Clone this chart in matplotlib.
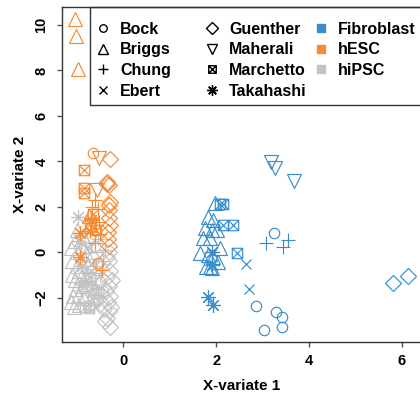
import numpy as np
import matplotlib
matplotlib.use("Agg")
import matplotlib.pyplot as plt
from matplotlib.path import Path
from matplotlib.lines import Line2D
from matplotlib.patches import Rectangle

plt.rcParams['font.family'] = ['Liberation Sans', 'DejaVu Sans']
plt.rcParams['font.weight'] = 'bold'

studies = ["Bock", "Briggs", "Chung", "Ebert", "Guenther", "Maherali", "Marchetto", "Takahashi"]
cell_types = ["Fibroblast", "hESC", "hiPSC"]
type_colors = {"Fibroblast": "#388ECC", "hESC": "#F68B33", "hiPSC": "#C2C2C2"}

# (x-variate 1, x-variate 2), per study and cell type
bock_fib = [(3.25, 0.84), (2.86, -2.35), (3.30, -2.64), (3.41, -2.83), (3.41, -3.30), (3.03, -3.42)]
bock_esc = [(-0.66, 4.35), (-0.55, -0.45)]
bock_ipsc = [(-0.60, -0.9), (-0.70, -1.6), (-0.55, -2.1), (-0.65, -0.2), (-0.50, -1.3), (-0.75, -2.3),
             (-0.45, -1.7), (-0.62, 0.3)]

briggs_fib = [(1.97, 2.18), (1.83, 1.57), (1.94, 1.42), (1.76, 1.06), (1.90, 0.98), (2.01, 0.98),
              (1.72, 0.62), (1.86, 0.62), (2.08, 0.18), (1.65, -0.04), (1.83, -0.12), (1.94, -0.19),
              (2.04, -0.41), (1.79, -0.63), (1.86, -0.63), (1.92, -0.70)]
briggs_esc = [(-1.04, 10.26), (-1.02, 9.53), (-0.98, 8.05), (-0.75, 1.6)]
briggs_ipsc = [(-1.05, 0.5), (-1.0, 0.0), (-1.1, -0.4), (-0.95, -0.8), (-1.05, -1.2), (-0.9, -1.5),
               (-1.08, -1.9), (-0.95, -2.3), (-1.07, -2.39), (-0.85, -0.3), (-0.8, -1.0), (-0.9, 0.3),
               (-1.0, 1.0), (-0.85, -2.0), (-1.12, 0.2), (-1.0, -0.6), (-1.1, -1.0), (-0.92, -1.1),
               (-1.02, -1.6), (-0.88, 0.7), (-1.12, -2.2), (-0.97, -1.9)]

chung_fib = [(3.07, 0.42), (3.44, 0.25), (3.55, 0.54)]
chung_esc = [(-0.61, 2.3), (-0.55, 1.9), (-0.7, 1.5), (-0.6, 1.2), (-0.5, 0.8), (-0.46, -0.78),
             (-0.62, 0.4), (-0.68, 2.0), (-0.52, 1.35)]
chung_ipsc = [(-0.45, -0.4), (-0.5, -1.0), (-0.6, -0.6), (-0.4, 0.1), (-0.7, -1.4), (-0.55, 0.6)]

ebert_fib = [(2.65, -0.51), (2.71, -1.61)]
ebert_esc = []
ebert_ipsc = [(-0.7, -0.8), (-0.55, -1.5), (-0.75, 0.2), (-0.6, -2.4)]

guenther_fib = [(5.81, -1.36), (6.14, -1.03)]
guenther_esc = [(-0.28, 4.09), (-0.36, 3.11), (-0.32, 2.96), (-0.28, 2.23), (-0.30, 2.1), (-0.32, 1.85),
                (-0.30, 1.5), (-0.28, 1.2), (-0.33, 0.9), (-0.30, 0.3), (-0.35, 3.0), (-0.34, 0.6)]
guenther_ipsc = [(-0.30, 0.0), (-0.32, -0.4), (-0.28, -0.8), (-0.35, -1.1), (-0.30, -1.5), (-0.28, -1.9),
                 (-0.33, -2.2), (-0.30, -2.6), (-0.35, -2.9), (-0.29, -3.27), (-0.40, -3.0),
                 (-0.38, -1.7), (-0.25, -1.2), (-0.36, -0.2), (-0.42, -2.5), (-0.26, -2.4)]

maherali_fib = [(3.19, 3.99), (3.27, 3.72), (3.67, 3.14)]
maherali_esc = [(-0.53, 4.13), (-0.57, 2.74)]
maherali_ipsc = [(-0.6, -0.3), (-0.65, -1.2), (-0.55, -1.9), (-0.7, 0.6), (-0.78, -1.7)]

marchetto_fib = [(2.08, 2.12), (2.14, 2.12), (2.14, 1.2), (2.37, 1.2), (2.44, -0.04)]
marchetto_esc = [(-0.84, 3.62), (-0.84, 2.82), (-0.84, 2.6), (-0.65, 1.7), (-0.6, 1.0), (-0.72, 1.25)]
marchetto_ipsc = [(-0.82, -2.39), (-0.75, -2.45), (-0.7, -0.5), (-0.6, -1.8), (-0.8, 0.2),
                  (-0.72, -1.1), (-0.85, -1.5), (-0.66, -2.1)]

takahashi_fib = [(1.90, 0.03), (1.90, -0.56), (1.83, -1.95), (1.94, -2.32)]
takahashi_esc = [(-0.94, 0.84), (-0.94, -0.19), (-0.69, 1.42), (-0.72, 0.95)]
takahashi_ipsc = [(-0.97, 1.57), (-0.95, 0.5), (-0.9, -0.6), (-0.85, -1.3)]

points = {
    "Bock": [bock_fib, bock_esc, bock_ipsc],
    "Briggs": [briggs_fib, briggs_esc, briggs_ipsc],
    "Chung": [chung_fib, chung_esc, chung_ipsc],
    "Ebert": [ebert_fib, ebert_esc, ebert_ipsc],
    "Guenther": [guenther_fib, guenther_esc, guenther_ipsc],
    "Maherali": [maherali_fib, maherali_esc, maherali_ipsc],
    "Marchetto": [marchetto_fib, marchetto_esc, marchetto_ipsc],
    "Takahashi": [takahashi_fib, takahashi_esc, takahashi_ipsc],
}

# square with a cross inside (R pch 7)
boxx = Path([(-1, -1), (1, -1), (1, 1), (-1, 1), (-1, -1), (-1, -1), (1, 1), (-1, 1), (1, -1)],
            [Path.MOVETO, Path.LINETO, Path.LINETO, Path.LINETO, Path.CLOSEPOLY,
             Path.MOVETO, Path.LINETO, Path.MOVETO, Path.LINETO])

study_marker = {"Bock": ("o", 7.5), "Briggs": ("^", 9.5), "Chung": ("+", 10.5), "Ebert": ("x", 7.5),
                "Guenther": ("D", 8), "Maherali": ("v", 9.5), "Marchetto": (boxx, 7.5),
                "Takahashi": ((8, 2, 0), 10.5)}

fig = plt.figure(figsize=(4.2, 3.93), dpi=100)
ax = fig.add_axes([0.1469, 0.1305, 0.857, 0.851])

for ct in ["hiPSC", "hESC", "Fibroblast"]:
    idx = cell_types.index(ct)
    for s in studies:
        pts = points[s][idx]
        if not pts:
            continue
        arr = np.array(pts)
        m, ms = study_marker[s]
        ax.plot(arr[:, 0], arr[:, 1], linestyle="none", marker=m, ms=ms,
                mfc="none", mec=type_colors[ct], mew=0.85)

ax.set_xlim(-1.33, 6.43)
ax.set_ylim(-3.93, 10.78)
ax.set_xticks([0, 2, 4, 6])
ax.set_yticks([-2, 0, 2, 4, 6, 8, 10])
for sp in ax.spines.values():
    sp.set_color("#333333")
    sp.set_linewidth(1.0)
ax.tick_params(axis="both", direction="out", length=3.6, width=1.0, color="#555555", labelsize=10.5)
ax.tick_params(axis="x", pad=5.5)
ax.tick_params(axis="y", pad=6, labelrotation=90)
for lab in ax.get_yticklabels():
    lab.set_va("center")
ax.set_xlabel("X-variate 1", fontsize=11, fontweight="bold", labelpad=8)
ax.set_ylabel("X-variate 2", fontsize=11, fontweight="bold", labelpad=5)

# legend: three columns of equal width inside a frame at the top right
W, H = 420.0, 393.0
fig.add_artist(Rectangle((90 / W, 1 - 105 / H), 340 / W, (105 - 7.3) / H, transform=fig.transFigure,
                         fill=False, edgecolor="#333333", linewidth=1.0))
col1 = [Line2D([], [], linestyle="none", marker=study_marker[s][0], ms=study_marker[s][1] * 0.72,
               mfc="none", mec="black", mew=1.0) for s in studies[:4]]
col2 = [Line2D([], [], linestyle="none", marker=study_marker[s][0], ms=study_marker[s][1] * 0.72,
               mfc="none", mec="black", mew=1.0) for s in studies[4:]]
col3 = [Line2D([], [], linestyle="none", marker="s", ms=6, mfc=type_colors[c], mec=type_colors[c])
        for c in cell_types]
cols = [(col1, studies[:4], 95.4), (col2, studies[4:], 204.4), (col3, cell_types, 313.4)]
for handles, labels, x0 in cols:
    fig.legend(handles, labels, loc="upper left", bbox_to_anchor=(x0 / W, 1 - 21.5 / H),
               frameon=False, borderpad=0, borderaxespad=0, handlelength=1.0,
               handletextpad=0.54, labelspacing=0.36,
               prop={"size": 11.5, "weight": "bold"})

fig.savefig("out.png", dpi=100)
